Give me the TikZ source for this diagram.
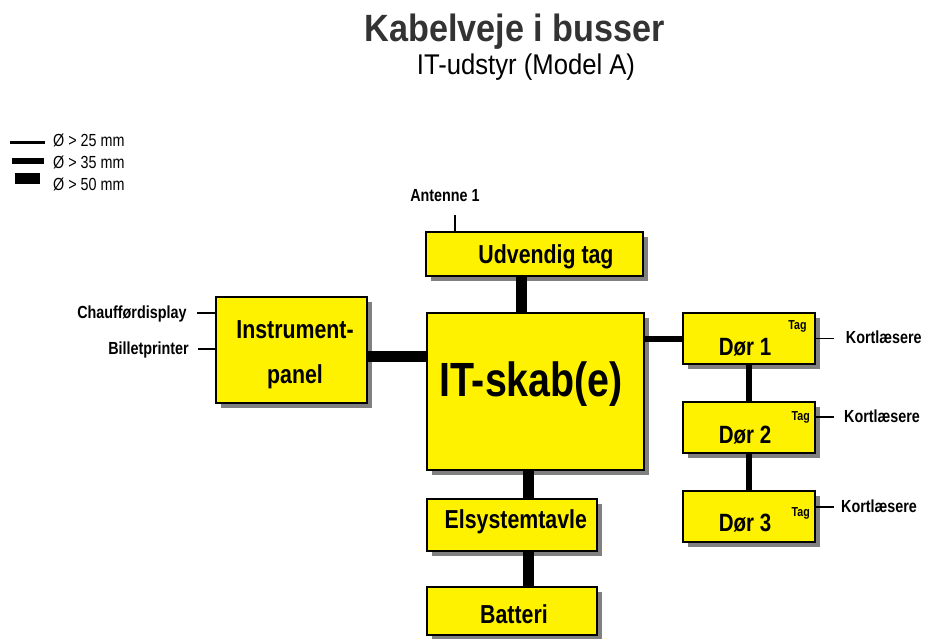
\documentclass[tikz,border=0pt]{standalone}
\usepackage{fontspec}
\setmainfont{Liberation Sans}
\newfontfamily\narrowsans[FakeStretch=0.82]{Liberation Sans}
\newfontfamily\titlesans[FakeStretch=0.9]{Liberation Sans}
\usetikzlibrary{shadows}
\definecolor{titlegray}{HTML}{333333}

\begin{document}
\begin{tikzpicture}[
		x=1pt, y=-1pt,
		unit/.style={draw=black, line width=1.5pt, fill=yellow, inner sep=0pt,
			drop shadow={opacity=1, shadow xshift=5pt, shadow yshift=-5pt, fill=black!50}},
		boxtext/.style={font=\narrowsans\bfseries\fontsize{26}{30}\selectfont, anchor=base, inner sep=0pt},
		doortext/.style={font=\narrowsans\bfseries\fontsize{25}{30}\selectfont, anchor=base, inner sep=0pt},
		sidetext/.style={font=\narrowsans\bfseries\fontsize{17.5}{20}\selectfont, inner sep=0pt},
		tagtext/.style={font=\narrowsans\bfseries\fontsize{13}{15}\selectfont, anchor=base, inner sep=0pt},
		legtext/.style={font=\narrowsans\fontsize{17.5}{20}\selectfont, anchor=base west, inner sep=0pt},
		cab25/.style={line width=3pt},
		cab35/.style={line width=6pt},
		cab50/.style={line width=11pt},
		wire/.style={line width=1.5pt}
		]
		
		\useasboundingbox (0,0) rectangle (926,639);
		
		% --- Heading ---
		\node[anchor=base, inner sep=0pt, text=titlegray,
		font=\titlesans\bfseries\fontsize{38}{40}\selectfont] (title) at (515,42) {Kabelveje i busser};
		\node[anchor=base, inner sep=0pt,
		font=\titlesans\fontsize{28.5}{30}\selectfont] (subtitle) at (526,75) {IT-udstyr (Model A)};
		
		% --- Legend: cable duct diameters ---
		\draw[cab25] (10,143) -- (45,143);
		\draw[cab35] (12,161) -- (44,161);
		\draw[cab50] (15,178.5) -- (40,178.5);
		\node[legtext] (leg25) at (53,147) {Ø > 25 mm};
		\node[legtext] (leg35) at (53,169) {Ø > 35 mm};
		\node[legtext] (leg50) at (53,191) {Ø > 50 mm};
		
		% --- Units ---
		\node[unit, minimum width=217pt, minimum height=44pt] (tag) at (534.5,254) {};
		\node[unit, minimum width=217pt, minimum height=157pt] (it) at (535.5,391.5) {};
		\node[unit, minimum width=151pt, minimum height=106pt] (panel) at (291.5,350) {};
		\node[unit, minimum width=132pt, minimum height=51pt] (dor1) at (749,338.5) {};
		\node[unit, minimum width=132pt, minimum height=51pt] (dor2) at (749,427.5) {};
		\node[unit, minimum width=132pt, minimum height=51pt] (dor3) at (749,516.5) {};
		\node[unit, minimum width=170pt, minimum height=52pt] (elsys) at (512,525) {};
		\node[unit, minimum width=170pt, minimum height=48pt] (batt) at (512,611) {};
		
		% unit labels
		\node[boxtext] (tagtxt) at (546,263) {Udvendig tag};
		\node[boxtext, font=\narrowsans\bfseries\fontsize{48}{50}\selectfont] (ittxt) at (531,396.7) {IT-skab(e)};
		\node[align=center, inner sep=0pt, font=\narrowsans\bfseries\fontsize{26}{45}\selectfont]
		(paneltxt) at (295,355) {Instrument-\\panel};
		\node[doortext] (dor1txt) at (745,355) {Dør 1};
		\node[doortext] (dor2txt) at (745,443.3) {Dør 2};
		\node[doortext] (dor3txt) at (745,531.7) {Dør 3};
		\node[tagtext] (tag1) at (797.5,329.3) {Tag};
		\node[tagtext] (tag2) at (800.8,420.7) {Tag};
		\node[tagtext] (tag3) at (800.8,516) {Tag};
		\node[boxtext] (elsystxt) at (515.8,528.3) {Elsystemtavle};
		\node[boxtext] (batttxt) at (514,623.3) {Batteri};
		
		% --- Cable ducts between units ---
		\draw[cab50] ([xshift=-13pt]tag.south) -- ([xshift=-13pt]tag.south |- it.north);
		\draw[cab50] ([yshift=-6pt]panel.east) -- ([yshift=-6pt]panel.east -| it.west);
		\draw[cab35] (dor1.west -| it.east) -- (dor1.west);
		\draw[cab35] (dor1.south) -- (dor2.north);
		\draw[cab35] (dor2.south) -- (dor3.north);
		\draw[cab50] ([xshift=16pt]elsys.north |- it.south) -- ([xshift=16pt]elsys.north);
		\draw[cab50] ([xshift=16pt]elsys.south) -- ([xshift=16pt]batt.north);
		
		% --- Peripheral equipment ---
		\node[sidetext, anchor=base] (antenne) at (445,201.7) {Antenne 1};
		\draw[wire] ([xshift=-79.5pt]tag.north) -- ++(0,-16);
		
		\node[sidetext, anchor=base east] (chauffor) at (186.7,318.3) {Chaufførdisplay};
		\node[sidetext, anchor=base east] (billet) at (189,354) {Billetprinter};
		\draw[wire] ([yshift=37pt]panel.west) -- ++(-18,0);
		\draw[wire] ([yshift=1pt]panel.west) -- ++(-17,0);
		
		\node[sidetext, anchor=base west] (kort1) at (845.7,343.3) {Kortlæsere};
		\node[sidetext, anchor=base west] (kort2) at (844,422.7) {Kortlæsere};
		\node[sidetext, anchor=base west] (kort3) at (841,512.7) {Kortlæsere};
		\draw[wire] (dor1.east) -- ++(18,0);
		\draw[wire] ([yshift=10.5pt]dor2.east) -- ++(18,0);
		\draw[wire] ([yshift=9.5pt]dor3.east) -- ++(18,0);
		
	\end{tikzpicture}
\end{document}
